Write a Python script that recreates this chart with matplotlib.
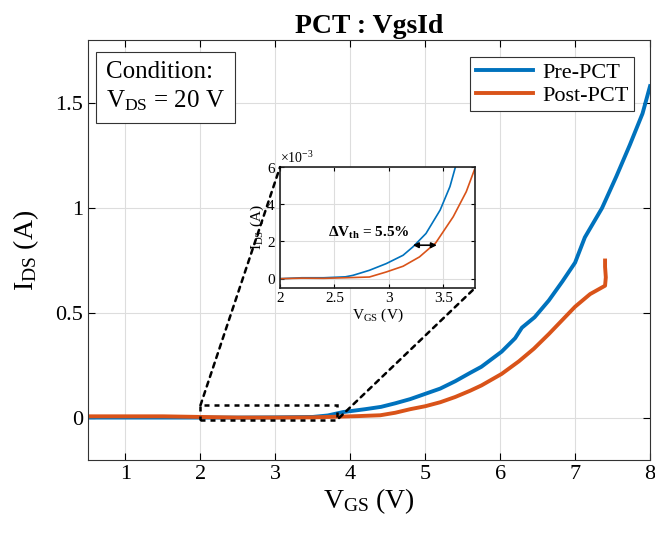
import matplotlib
matplotlib.use("Agg")
import matplotlib.pyplot as plt
from matplotlib.patches import Rectangle, ConnectionPatch
from matplotlib.ticker import ScalarFormatter

plt.rcParams['font.family'] = ['Liberation Serif', 'DejaVu Serif']
plt.rcParams['mathtext.fontset'] = 'custom'
plt.rcParams['mathtext.rm'] = 'Liberation Serif'
plt.rcParams['mathtext.it'] = 'Liberation Serif:italic'
plt.rcParams['mathtext.bf'] = 'Liberation Serif:bold'

# ---- data (main) ----
pre_v = [0.5, 1.0, 1.5, 2.0, 2.5, 3.0, 3.5, 3.7, 3.9, 4.2, 4.41, 4.6, 4.8, 5.0, 5.2, 5.4,
         5.6, 5.75, 6.02, 6.2, 6.29, 6.46, 6.65, 6.83, 7.0, 7.13, 7.36, 7.55, 7.73, 7.9, 8.0]
pre_i = [0.002, 0.002, 0.002, 0.002, 0.002, 0.003, 0.005, 0.012, 0.028, 0.042, 0.053, 0.07,
         0.09, 0.115, 0.14, 0.175, 0.215, 0.244, 0.316, 0.38, 0.43, 0.48, 0.56, 0.65, 0.74,
         0.86, 1.0, 1.15, 1.30, 1.45, 1.58]
post_v = [0.5, 1.0, 1.5, 2.0, 2.5, 3.0, 3.5, 3.8, 4.1, 4.4, 4.6, 4.8, 5.0, 5.2, 5.4, 5.6,
          5.75, 6.02, 6.25, 6.45, 6.65, 7.0, 7.2, 7.40, 7.41, 7.40, 7.40]
post_i = [0.008, 0.008, 0.008, 0.005, 0.002, 0.002, 0.003, 0.006, 0.009, 0.013, 0.025, 0.042,
          0.056, 0.075, 0.10, 0.13, 0.155, 0.21, 0.27, 0.33, 0.40, 0.53, 0.59, 0.63, 0.67,
          0.72, 0.75]

# ---- data (inset) ----
in_pre_v = [2.0, 2.2, 2.4, 2.6, 2.67, 2.82, 2.975, 3.13, 3.22, 3.34, 3.47, 3.56, 3.61]
in_pre_i = [0.0, 0.05e-3, 0.05e-3, 0.1e-3, 0.18e-3, 0.45e-3, 0.81e-3, 1.26e-3, 1.71e-3,
            2.43e-3, 3.69e-3, 4.95e-3, 6.0e-3]
in_post_v = [2.0, 2.2, 2.4, 2.6, 2.82, 2.975, 3.13, 3.28, 3.43, 3.59, 3.71, 3.785]
in_post_i = [0.0, 0.03e-3, 0.02e-3, 0.05e-3, 0.09e-3, 0.36e-3, 0.67e-3, 1.17e-3, 1.93e-3,
             3.33e-3, 4.68e-3, 5.86e-3]

blue = '#0072BD'
orange = '#D95319'

fig = plt.figure(figsize=(6.55, 5.35), dpi=100)
ax = fig.add_axes([0.1344, 0.1402, 0.858, 0.785])
ax.plot(pre_v, pre_i, color=blue, lw=2.8, label='Pre-PCT')
ax.plot(post_v, post_i, color=orange, lw=2.8, label='Post-PCT')
ax.set_xlim(0.5, 8)
ax.set_ylim(-0.2, 1.8)
ax.set_xticks([1, 2, 3, 4, 5, 6, 7, 8])
ax.set_yticks([0, 0.5, 1, 1.5])
ax.set_yticklabels(['0', '0.5', '1', '1.5'])
ax.grid(True, color='#dddddd', lw=0.8)
ax.tick_params(direction='in', top=True, right=True, labelsize=16, length=5)
for s in ax.spines.values():
    s.set_color('#333333')
ax.set_xlabel(r'V$_{\mathrm{GS}}$ (V)', fontsize=20, labelpad=2)
ax.set_ylabel(r'I$_{\mathrm{DS}}$ (A)', fontsize=20, labelpad=10)
ax.set_title('PCT : VgsId', fontsize=20, fontweight='bold', pad=5)
leg = ax.legend(loc='upper right', fontsize=16, fancybox=False, edgecolor='#333333',
                framealpha=1, handlelength=2.6, handletextpad=0.4,
                borderaxespad=0.0, borderpad=0.25, labelspacing=0.1,
                bbox_to_anchor=(0.972, 0.96))
leg.get_frame().set_linewidth(0.8)
ax.text(0.032, 0.95, 'Condition:\n' + r'V$_{\mathrm{DS}}$ = 20 V', transform=ax.transAxes,
        fontsize=18, va='top', ha='left', linespacing=1.3,
        bbox=dict(boxstyle='square,pad=0.4', fc='white', ec='#333333', lw=0.8))

# zoom rectangle
rect = Rectangle((2.0, -0.01), 1.82, 0.07, fill=False, ec='black', lw=1.8,
                 ls=(0, (2, 2)), zorder=5)
ax.add_patch(rect)

# inset
axi = fig.add_axes([0.4275, 0.4617, 0.2977, 0.226])
axi.plot(in_pre_v, in_pre_i, color=blue, lw=1.2)
axi.plot(in_post_v, in_post_i, color=orange, lw=1.2)
axi.set_xlim(2, 3.79)
axi.set_ylim(-0.5e-3, 6e-3)
axi.set_xticks([2, 2.5, 3, 3.5])
axi.set_xticklabels(['2', '2.5', '3', '3.5'])
axi.set_yticks([0, 2e-3, 4e-3, 6e-3])
fmt = ScalarFormatter(useMathText=True)
fmt.set_powerlimits((-2, 2))
axi.yaxis.set_major_formatter(fmt)
axi.yaxis.get_offset_text().set_fontsize(10)
axi.grid(True, color='#dddddd', lw=0.8)
axi.tick_params(direction='in', top=True, right=True, labelsize=11, length=3, pad=3)
for s in axi.spines.values():
    s.set_linewidth(1.2)
    s.set_color('#222222')
axi.set_xlabel(r'V$_{\mathrm{GS}}$ (V)', fontsize=11, labelpad=1)
axi.set_ylabel(r'I$_{\mathrm{DS}}$ (A)', fontsize=11, labelpad=0)
axi.annotate('', xy=(3.22, 1.8e-3), xytext=(3.44, 1.8e-3),
             arrowprops=dict(arrowstyle='<|-|>', color='black', lw=1.2,
                             mutation_scale=8, shrinkA=0, shrinkB=0))
axi.text(2.44, 2.0e-3, r'$\mathbf{\Delta V_{th}}$ = 5.5%', fontsize=11,
         fontweight='bold', ha='left', va='bottom')

# connectors
for xyA, xyB in [((2.0, 0.06), (0.0, 1.0)), ((3.85, 0.0), (1.0, 0.0))]:
    con = ConnectionPatch(xyA=xyA, coordsA=ax.transData, xyB=xyB, coordsB=axi.transAxes,
                          color='black', lw=1.8, ls=(0, (2, 2)), zorder=5)
    fig.add_artist(con)

fig.savefig('out.png', dpi=100)
